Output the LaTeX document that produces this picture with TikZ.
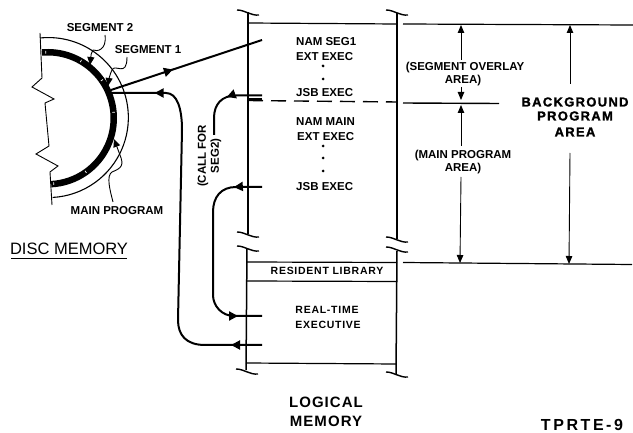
\documentclass[tikz,border=0pt]{standalone}
\usepackage{fontspec}
\setmainfont{Liberation Sans}
\newfontfamily\spacedfont[LetterSpace=7]{Liberation Sans}
\newfontfamily\tagfont[LetterSpace=16]{Liberation Sans}
\newfontfamily\widefont[LetterSpace=10,FakeBold=1.5]{Liberation Sans}
\usetikzlibrary{arrows.meta,decorations.markings}
\tikzset{
  lab/.style={inner sep=0pt,font=\fontsize{11.5}{13}\selectfont\bfseries},
  lableft/.style={lab,anchor=west},
  spaced/.style={inner sep=0pt,font=\fontsize{10.5}{12}\selectfont\bfseries\spacedfont},
  big/.style={inner sep=0pt,font=\fontsize{15}{17}\selectfont\bfseries\spacedfont},
  tag/.style={inner sep=0pt,font=\fontsize{16}{18}\selectfont\bfseries\tagfont},
  heavy/.style={inner sep=0pt,font=\fontsize{13}{15}\selectfont\bfseries\widefont},
  wall/.style={line width=1.5pt},
  rule/.style={line width=1.2pt},
  flow/.style={line width=2pt},
  thin line/.style={line width=0.9pt},
  dim/.style={line width=0.9pt,-{Triangle[length=8pt,width=6.5pt]}},
  tiny tip/.style={line width=0.9pt,-{Triangle[length=8pt,width=7pt]}},
  brk/.style={line width=1.4pt},
  midtip/.style={postaction={decorate,decoration={markings,mark=at position #1 with {\arrow{Triangle[length=9pt,width=9pt]}}}}},
}
\newcommand{\brkmark}[2]{\draw[brk] (#1-11,#2-3) .. controls (#1-3,#2-3) and (#1+3,#2+3) .. (#1+11,#2+2);}
\begin{document}
\begin{tikzpicture}[x=1pt,y=-1pt]
\useasboundingbox (0,0) rectangle (633,433);
% disc
\def\cx{48}\def\cy{118}
\draw[thin line] (40,33) -- (42,78) -- (32,87) -- (54,99) -- (45,103) -- (49,146) -- (36,154) -- (58,166) -- (50,172) -- (52,205);
\draw[line width=1.1pt] (40,38) arc[start angle=-96,end angle=87,radius=80];
\draw[line width=6.5pt] (42,52.5) arc[start angle=-95,end angle=87,radius=66];
\foreach \a in {-92,-60,-35,-5,55,85}
  \draw[white,line width=0.7pt] (\cx,\cy)++(\a:64.5) -- ++(\a:2.6);
% pointers
\coordinate (s2a) at (105,35); \coordinate (s2b) at (90,65);
\coordinate (s1a) at (127,57); \coordinate (s1b) at (108,86);
\coordinate (mpa) at (113,202); \coordinate (mpb) at (114,139);
\draw[tiny tip] (s2a) .. controls (107,50) and (97,52) .. (93,50) .. controls (91,52) and (91,56) .. (s2b);
\draw[tiny tip] (s1a) .. controls (127,78) and (115,63) .. (112,70) .. controls (110,74) and (109,79) .. (s1b);
\draw[tiny tip] (mpa) .. controls (110,190) and (106,176) .. (112,172) .. controls (122,168) and (124,165) .. (120,155) -- (mpb);
% walls
\draw[wall] (248,12) -- (248,234);
\draw[wall] (247,249) -- (246,370);
\draw[wall] (397,13) -- (397,239);
\draw[wall] (397,251) -- (396,374);
\brkmark{248}{13}\brkmark{397}{13}
\brkmark{248}{235}\brkmark{397}{240}
\brkmark{248}{249}\brkmark{397}{250}
\brkmark{247}{372}\brkmark{397}{375}
% horizontals
\draw[rule] (248,23) -- (397,24);
\draw[rule] (403,24) -- (633,25);
\draw[line width=1.4pt,dash pattern=on 15pt off 8pt] (248,100.5) -- (397,102);
\draw[line width=1.4pt] (403,103) -- (499,103.5);
\draw[rule] (247,262) -- (397,262.5);
\draw[rule] (403,262.5) -- (632,264.5);
\draw[rule] (247,281) -- (397,281.5);
\draw[rule] (246,363) -- (396,364);
% connectors
\coordinate (seg1a) at (262,40); \coordinate (seg1b) at (111,90);
\draw[flow,midtip=0.41] (seg1b) -- (seg1a);
\coordinate (rta) at (262,345); \coordinate (rtb) at (112,93);
\draw[flow,midtip=0.08,midtip=0.89] (rta) -- (205,345) .. controls (186,345) and (178,335) .. (178,320) -- (182,130) .. controls (182,108) and (177,93) .. (166,93) -- (rtb);
\coordinate (c2a) at (262,95.5); \coordinate (c2b) at (214,135);
\draw[flow,midtip=0.45] (c2a) -- (236,95.5) .. controls (222,95.5) and (214,104) .. (214,118) -- (c2b);
\draw[flow] (247,99.5) -- (262,99.5);
\coordinate (c3a) at (262,187); \coordinate (c3b) at (262,316);
\draw[flow,midtip=0.135,midtip=0.885] (c3a) -- (236,187) .. controls (221,187) and (213,197) .. (213,212) -- (213,295) .. controls (213,306) and (222,316) .. (234,316) -- (c3b);
% dimension arrows
\coordinate (d1) at (461,60); \coordinate (d1t) at (461,25);
\coordinate (d2) at (461,87); \coordinate (d2t) at (461,100);
\coordinate (d3) at (461,146); \coordinate (d3t) at (461,105);
\coordinate (d4) at (461,177); \coordinate (d4t) at (460,263);
\coordinate (d5) at (570,84); \coordinate (d5t) at (570,25);
\coordinate (d6) at (570,153); \coordinate (d6t) at (569,264);
\foreach \a/\b in {d1/d1t,d2/d2t,d3/d3t,d4/d4t,d5/d5t,d6/d6t} \draw[dim] (\a) -- (\b);
% labels
\node[lab] (seg2) at (100,28) {SEGMENT 2};
\node[lab] (seg1) at (148,50) {SEGMENT 1};
\node[lab] (mainp) at (117,211) {MAIN PROGRAM};
\node[inner sep=0pt,font=\fontsize{16.5}{19}\selectfont] (disc) at (69,249) {DISC MEMORY};
\draw[line width=1pt] (11,259) -- (127,259);
\node[lableft] (n1) at (296,42) {NAM SEG1};
\node[lableft] (n2) at (296,57) {EXT EXEC};
\node[lableft] (n3) at (296,93) {JSB EXEC};
\node[lableft] (n4) at (296,122) {NAM MAIN};
\node[lableft] (n5) at (297,137) {EXT EXEC};
\node[lableft] (n6) at (296,187) {JSB EXEC};
\foreach \y in {66,79,146,158,171} \fill (323,\y) circle (1.5);
\node[spaced] (res) at (327,271) {RESIDENT LIBRARY};
\node[spaced] (rt1) at (327,310) {REAL-TIME};
\node[spaced] (rt2) at (328,325) {EXECUTIVE};
\node[big] (lm1) at (326,402) {LOGICAL};
\node[big] (lm2) at (326,421) {MEMORY};
\node[tag] (tp) at (582,424.5) {TPRTE-9};
\node[heavy] (b1) at (575,102) {BACKGROUND};
\node[heavy] (b2) at (575,116) {PROGRAM};
\node[heavy] (b3) at (575,132) {AREA};
\node[lab] (o1) at (465,68) {(SEGMENT OVERLAY};
\node[lab] (o2) at (463,81) {AREA)};
\node[lab] (m1) at (463,156) {(MAIN PROGRAM};
\node[lab] (m2) at (463,169) {AREA)};
\node[lab,rotate=90] (c1) at (203,156) {(CALL FOR};
\node[lab,rotate=90] (c2) at (216,156) {SEG2)};
\end{tikzpicture}
\end{document}
